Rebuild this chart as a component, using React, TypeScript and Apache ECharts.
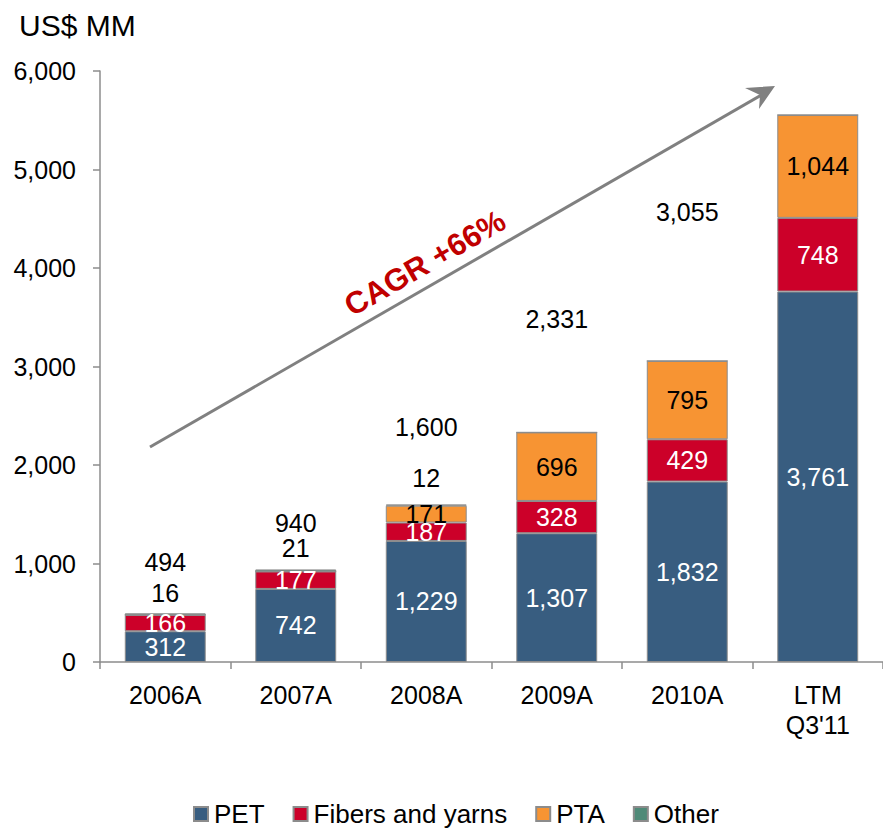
import React, { useEffect, useRef } from "react";
import * as echarts from "echarts";

const categories = ["2006A", "2007A", "2008A", "2009A", "2010A", "LTM\nQ3'11"];
const pet = [312, 742, 1229, 1307, 1832, 3761];
const fibers = [166, 177, 187, 328, 429, 748];
const pta = [0, 0, 171, 696, 795, 1044];
const other = [16, 21, 12, 0, 0, 0];
const totals = [494, 940, 1600, 2331, 3055, null];
// vertical positions (in axis units) where the source places its floating labels
const totalLabelPos = [1015, 1411, 2386, 3482, 4569, null];
const otherLabelPos = [700, 1157, 1868, null, null, null];
const yTicks = { min: 0, max: 6000, interval: 1000 };

const FONT = "Liberation Sans, Arial, sans-serif";
const fmt = (v: number) => v.toLocaleString("en-US");

export default function App() {
  const ref = useRef<HTMLDivElement>(null);
  useEffect(() => {
    if (!ref.current) return;
    const chart = echarts.init(ref.current, null, { renderer: "svg" });
    const border = { borderColor: "#8c8c8c", borderWidth: 1 };
    const barLabel = (color: string) => ({
      show: true,
      position: "inside",
      color,
      fontSize: 25,
      fontFamily: FONT,
      formatter: (p: any) => (p.value ? fmt(p.value) : ""),
    });
    const floatLabels = (name: string, vals: (number | null)[], pos: (number | null)[]) => ({
      type: "scatter",
      name,
      data: vals
        .map((v, i) => (v == null || pos[i] == null ? null : { value: [i, pos[i]], lab: v }))
        .filter((d) => d != null),
      symbolSize: 0,
      itemStyle: { color: "#000", opacity: 1 },
      silent: true,
      z: 10,
      label: {
        show: true,
        position: "inside",
        color: "#000",
        opacity: 1,
        fontSize: 25,
        fontFamily: FONT,
        formatter: (p: any) => fmt(p.data.lab),
      },
      emphasis: { disabled: true },
    });
    chart.setOption({
      animation: false,
      textStyle: { fontFamily: FONT },
      grid: { left: 100, right: 0, top: 71, bottom: 167, containLabel: false },
      title: {
        text: "US$ MM",
        left: 14,
        top: 5,
        textStyle: { fontSize: 30, fontWeight: "normal", color: "#000", fontFamily: FONT },
      },
      legend: {
        data: ["PET", "Fibers and yarns", "PTA", "Other"],
        left: 188,
        top: 796,
        itemWidth: 14,
        itemHeight: 14,
        itemGap: 28,
        icon: "rect",
        textStyle: { fontSize: 26, color: "#000", fontFamily: FONT, padding: [0, 0, 0, 1] },
      },
      xAxis: {
        type: "category",
        data: categories,
        axisLine: { lineStyle: { color: "#8c8c8c", width: 1.5 } },
        axisTick: { show: true, interval: 0, length: 7, lineStyle: { color: "#8c8c8c", width: 1.5 } },
        axisLabel: { color: "#000", fontSize: 25, lineHeight: 30, margin: 18, interval: 0, fontFamily: FONT },
      },
      yAxis: {
        type: "value",
        min: yTicks.min,
        max: yTicks.max,
        interval: yTicks.interval,
        splitLine: { show: false },
        axisLine: { show: true, lineStyle: { color: "#8c8c8c", width: 1.5 } },
        axisTick: { show: true, length: 7, lineStyle: { color: "#8c8c8c", width: 1.5 } },
        axisLabel: { color: "#000", fontSize: 25, margin: 24, fontFamily: FONT, formatter: (v: number) => fmt(v) },
      },
      series: [
        {
          name: "PET",
          type: "bar",
          stack: "s",
          barWidth: "62%",
          data: pet,
          itemStyle: { color: "#385d80", ...border },
          label: barLabel("#fff"),
        },
        {
          name: "Fibers and yarns",
          type: "bar",
          stack: "s",
          data: fibers,
          itemStyle: { color: "#cc0029", ...border },
          label: barLabel("#fff"),
        },
        {
          name: "PTA",
          type: "bar",
          stack: "s",
          data: pta,
          itemStyle: { color: "#f79433", ...border },
          label: barLabel("#000"),
        },
        {
          name: "Other",
          type: "bar",
          stack: "s",
          data: other,
          itemStyle: { color: "#4f8a78", ...border },
        },
        floatLabels("totals", totals, totalLabelPos),
        floatLabels("otherLabels", other.map((v, i) => (otherLabelPos[i] == null ? null : v)), otherLabelPos),
      ],
      graphic: [
        {
          type: "line",
          shape: { x1: 150, y1: 447, x2: 765, y2: 93 },
          style: { stroke: "#808080", lineWidth: 3 },
          z: 20,
        },
        {
          type: "polygon",
          shape: { points: [[775, 86], [745, 88], [760, 95], [759, 109]] },
          style: { fill: "#808080" },
          z: 20,
        },
        {
          type: "text",
          x: 425,
          y: 263,
          rotation: (30 * Math.PI) / 180,
          style: {
            text: "CAGR +66%",
            fill: "#c00000",
            fontSize: 31,
            fontWeight: "bold",
            fontFamily: FONT,
            align: "center",
            verticalAlign: "middle",
          },
          z: 20,
        },
      ],
    });
    return () => chart.dispose();
  }, []);
  return <div ref={ref} style={{ position: "absolute", left: 0, top: 0, width: 883, height: 829 }} />;
}
